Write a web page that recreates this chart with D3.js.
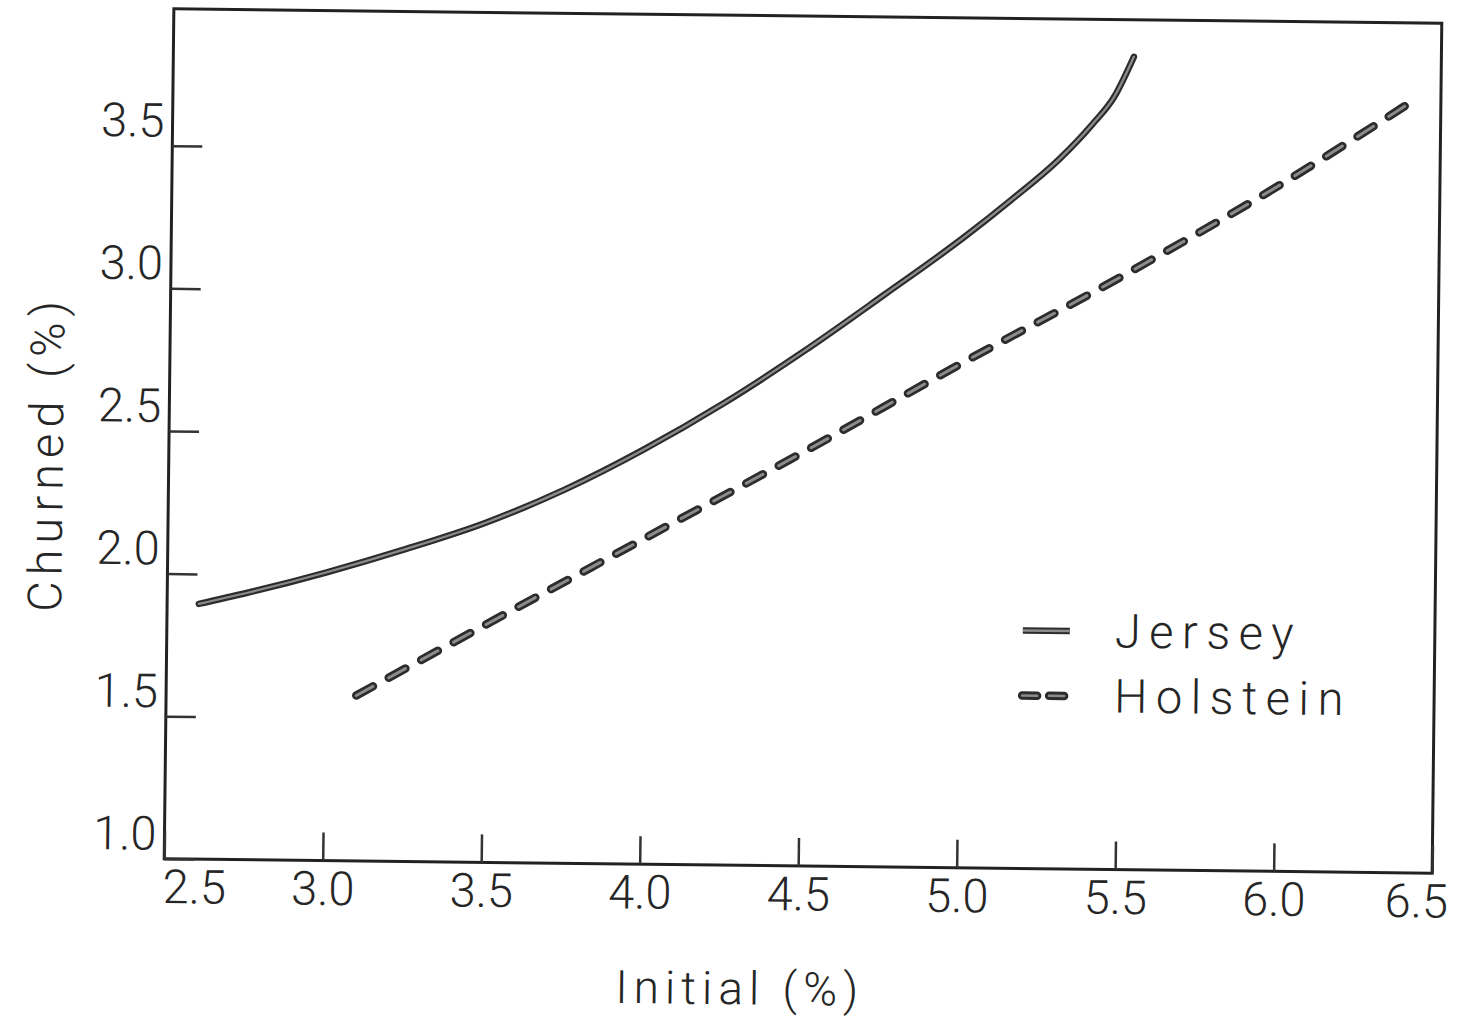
<!DOCTYPE html>
<html>
<head>
<meta charset="utf-8">
<script src="https://cdn.jsdelivr.net/npm/d3@7.9.0/dist/d3.min.js"></script>
<style>
  html, body { margin: 0; padding: 0; background: #fff; }
  svg { display: block; }
  text { font-family: Roboto, "Open Sans", "DejaVu Sans", sans-serif; font-weight: 300; fill: #262626; }
</style>
</head>
<body>
<svg id="chart" width="1471" height="1023"></svg>
<script>
// data
const xTicks = [2.5, 3.0, 3.5, 4.0, 4.5, 5.0, 5.5, 6.0, 6.5];
const yTicks = [1.0, 1.5, 2.0, 2.5, 3.0, 3.5];

const jerseyInitial = [2.60, 2.75, 3.00, 3.25, 3.50, 3.75, 4.00, 4.25, 4.50, 4.75, 5.00, 5.15, 5.30, 5.40, 5.47, 5.53];
const jerseyChurned = [1.895, 1.935, 2.010, 2.095, 2.190, 2.310, 2.455, 2.620, 2.805, 3.005, 3.210, 3.345, 3.490, 3.610, 3.710, 3.850];

const holsteinInitial = [3.10, 3.50, 4.00, 4.50, 5.00, 5.50, 6.00, 6.43];
const holsteinChurned = [1.58, 1.83, 2.14, 2.45, 2.77, 3.08, 3.41, 3.72];

const seriesNames = ['Jersey', 'Holstein'];

const svg = d3.select('#chart');
// the original scan is tilted a little
const g = svg.append('g').attr('transform', 'rotate(0.65, 803, 441)');

const x = d3.scaleLinear().domain([2.5, 6.5]).range([169, 1437]);
const y = d3.scaleLinear().domain([1.0, 3.98]).range([866, 16]);
const fmt = d3.format('.1f');

// frame
g.append('rect')
  .attr('x', x(2.5)).attr('y', y(3.98))
  .attr('width', x(6.5) - x(2.5)).attr('height', y(1.0) - y(3.98))
  .attr('fill', 'none').attr('stroke', '#222').attr('stroke-width', 3);

// x axis, ticks pointing into the plot
const xAxis = g.append('g')
  .attr('transform', `translate(0,${y(1.0)})`)
  .call(d3.axisBottom(x).tickValues(xTicks).tickSize(-28).tickPadding(11).tickFormat(fmt));
xAxis.select('.domain').remove();
xAxis.selectAll('line').attr('stroke', '#333').attr('stroke-width', 2.5);
xAxis.selectAll('text')
  .attr('font-size', 47).attr('fill', '#262626')
  .attr('dx', d => d === 2.5 ? 30 : d === 6.5 ? -16 : 0);

// y axis, labels sit on the tick line
const yAxis = g.append('g')
  .attr('transform', `translate(${x(2.5)},0)`)
  .call(d3.axisLeft(y).tickValues(yTicks).tickSize(-30).tickPadding(8).tickFormat(fmt));
yAxis.select('.domain').remove();
yAxis.selectAll('line').attr('stroke', '#333').attr('stroke-width', 2.5);
yAxis.selectAll('text')
  .attr('font-size', 47).attr('fill', '#262626')
  .attr('dy', '-0.2em');

// axis titles
g.append('text')
  .attr('x', 746).attr('y', 1005)
  .attr('text-anchor', 'middle')
  .attr('font-size', 46).attr('letter-spacing', 6)
  .text('Initial (%)');

g.append('text')
  .attr('transform', 'translate(63,462) rotate(-90)')
  .attr('text-anchor', 'middle')
  .attr('font-size', 47).attr('letter-spacing', 6)
  .text('Churned (%)');

// curves
const line = d3.line()
  .x(d => x(d[0]))
  .y(d => y(d[1]))
  .curve(d3.curveMonotoneX);

const jersey = d3.zip(jerseyInitial, jerseyChurned);
const holstein = d3.zip(holsteinInitial, holsteinChurned);

function drawCurve(data, width, dash) {
  g.append('path')
    .attr('d', line(data))
    .attr('fill', 'none').attr('stroke', '#2c2c2c')
    .attr('stroke-width', width).attr('stroke-linecap', 'round')
    .attr('stroke-dasharray', dash);
  g.append('path')
    .attr('d', line(data))
    .attr('fill', 'none').attr('stroke', '#8c8c8c')
    .attr('stroke-width', width * 0.35).attr('stroke-linecap', 'round')
    .attr('stroke-dasharray', dash);
}

drawCurve(jersey, 6.5, null);
drawCurve(holstein, 8.5, '19,18');

// legend
const legend = g.append('g');
seriesNames.forEach((name, i) => {
  const ly = 628 + i * 65;
  const sample = [[1025, ly], [1072, ly]];
  const dash = i === 0 ? null : '15,12';
  legend.append('path')
    .attr('d', d3.line()(sample))
    .attr('stroke', '#2c2c2c').attr('stroke-width', i === 0 ? 6.5 : 8.5)
    .attr('stroke-linecap', i === 0 ? 'butt' : 'round')
    .attr('stroke-dasharray', dash);
  legend.append('path')
    .attr('d', d3.line()(sample))
    .attr('stroke', '#8c8c8c').attr('stroke-width', 2.5)
    .attr('stroke-linecap', i === 0 ? 'butt' : 'round')
    .attr('stroke-dasharray', dash);
  legend.append('text')
    .attr('x', 1117).attr('y', ly + 16)
    .attr('font-size', 47).attr('letter-spacing', 8.5)
    .text(name);
});
</script>
</body>
</html>
